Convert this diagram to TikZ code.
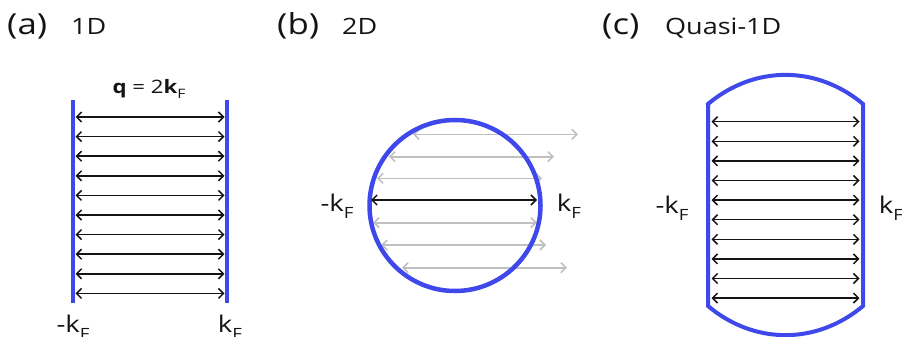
\documentclass[tikz,border=0pt]{standalone}
\usepackage{fontspec}
\setmainfont{Open Sans}
\usetikzlibrary{arrows.meta}
\definecolor{fsblue}{RGB}{62,72,235}
\definecolor{ghost}{RGB}{192,192,192}
\definecolor{ink}{RGB}{20,20,20}
\tikzset{
  nest/.style={{Straight Barb[length=5pt,width=10pt]}-{Straight Barb[length=5pt,width=10pt]}, line width=1.5pt, ink},
  ghostarrow/.style={nest, ghost, line width=1.6pt},
  fermi/.style={fsblue, line width=4pt},
  titletext/.style={font=\fontsize{22.5}{24}\selectfont, anchor=base west, inner sep=0pt, text=ink},
  parentext/.style={font=\fontsize{29}{34}\selectfont, anchor=base west, inner sep=0pt, text=ink},
  klabel/.style={font=\fontsize{23}{24}\selectfont, anchor=base, inner sep=0pt, text=ink},
  qlabel/.style={font=\fontsize{18.5}{20}\selectfont, anchor=base, inner sep=0pt, text=ink},
}
\newcommand{\kFermi}{k\raisebox{-0.32em}{\fontsize{15.5}{15}\selectfont F}}
\newcommand{\wideT}[1]{\scalebox{1.2}[1]{#1}}
\begin{document}
\begin{tikzpicture}[x=1pt,y=-1pt]
\useasboundingbox (0,0) rectangle (902,337);
% titles
\node[parentext] (pa) at (7,35) {\wideT{(a)}};
\node[titletext] (ta) at (71,34.5) {\wideT{1D}};
\node[parentext] (pb) at (277,35) {\wideT{(b)}};
\node[titletext] (tb) at (342,34.5) {\wideT{2D}};
\node[parentext] (pc) at (602,35) {\wideT{(c)}};
\node[titletext] (tc) at (665,34.5) {\wideT{Quasi-1D}};
% (a) 1D
\draw[fermi] (73,100) -- (73,303);
\draw[fermi] (227,100) -- (227,303);
\foreach \i in {0,...,9} {
  \draw[nest] (75.5,{117+19.6*\i}) -- (224.5,{117+19.6*\i});
}
\node[qlabel] (q) at (149,93) {\wideT{\textbf{q} = 2\textbf{k}\raisebox{-0.3em}{\fontsize{13}{13}\selectfont F}}};
\node[klabel] (ma) at (73,332) {\wideT{-\kFermi}};
\node[klabel] (pa2) at (230,332) {\wideT{\kFermi}};
% (b) 2D
\draw[ghostarrow] (413,134.3) -- (578,134.3);
\draw[ghostarrow] (389,156.7) -- (554,156.7);
\draw[ghostarrow] (377,178.3) -- (542,178.3);
\draw[ghostarrow] (373,222.7) -- (537,222.7);
\draw[ghostarrow] (381,245) -- (546,245);
\draw[ghostarrow] (402,267.7) -- (567,267.7);
\draw[fermi, line width=4.5pt] (455,205.5) circle (85.5);
\draw[nest] (371,200) -- (537,200);
\node[klabel] (mb) at (337,211) {\wideT{-\kFermi}};
\node[klabel] (pb2) at (569,211) {\wideT{\kFermi}};
% (c) quasi-1D
\draw[fermi, line join=miter] (708,104) to[bend left=40] (863,104) -- (863,306) to[bend left=40] (708,306) -- cycle;
\foreach \i in {0,...,9} {
  \draw[nest] (711.5,{121.7+19.6*\i}) -- (859.5,{121.7+19.6*\i});
}
\node[klabel] (mc) at (672,213) {\wideT{-\kFermi}};
\node[klabel] (pc2) at (891,213) {\wideT{\kFermi}};
\end{tikzpicture}
\end{document}
